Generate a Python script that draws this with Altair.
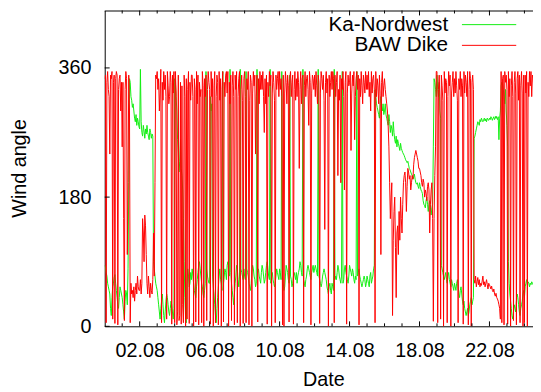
import altair as alt
import pandas as pd

FONT = "Liberation Sans"

# Series names and colours
series_names = ["Ka-Nordwest", "BAW Dike"]
series_colors = ["#11ee11", "#ff0000"]

# Axis ticks / labels (x in days since 31.07 00:00)
x_label_days = [2, 6, 10, 14, 18, 22]
x_labels = ["02.08", "06.08", "10.08", "14.08", "18.08", "22.08"]
x_minor_days = [1, 3, 4, 5, 7, 8, 9, 11, 12, 13, 15, 16, 17, 19, 20, 21, 23, 24]
y_ticks = [0, 180, 360]

# Sampling: one value every hour, starting 31.07 00:00
STEP_DAY = 1 / 24

# Ka-Nordwest wind angle, one list per day (31.07 ... 24.08)
g00 = [85, 82, 75, 70, 60, 55, 50, 45, 25, 15, 40, 55, 60, 68, 72, 60, 50, 40, 30, 25, 40, 55, 50, 45]
g01 = [40, 30, 20, 10, 35, 50, 45, 30, 80, 200, 345, 340, 320, 315, 305, 310, 300, 290, 285, 295, 280, 290, 285, 278]
g02 = [275, 358, 285, 270, 265, 280, 272, 262, 275, 268, 280, 270, 265, 260, 275, 270, 262, 268, 265, 90, 80, 70, 60, 55]
g03 = [50, 40, 30, 20, 10, 25, 35, 45, 30, 15, 5, 20, 35, 45, 40, 30, 20, 15, 25, 35, 30, 20, 10, 25]
g04 = [345, 340, 320, 300, 260, 240, 215, 230, 260, 220, 210, 190, 150, 90, 40, 10, 5, 60, 80, 70, 55, 60, 75, 65]
g05 = [80, 70, 60, 50, 45, 40, 55, 65, 75, 85, 90, 80, 70, 60, 55, 45, 40, 50, 60, 355, 80, 70, 65, 60]
g06 = [60, 320, 300, 310, 70, 55, 45, 30, 15, 5, 25, 40, 55, 70, 80, 65, 60, 50, 355, 60, 70, 80, 75, 65]
g07 = [85, 90, 80, 70, 358, 75, 60, 50, 40, 30, 45, 60, 70, 85, 80, 65, 55, 70, 358, 80, 75, 70, 65, 80]
g08 = [70, 65, 355, 80, 75, 70, 60, 55, 50, 60, 75, 85, 80, 70, 65, 55, 60, 358, 75, 80, 70, 65, 60, 75]
g09 = [85, 80, 70, 60, 65, 75, 85, 90, 80, 70, 65, 358, 60, 70, 75, 65, 60, 55, 60, 70, 80, 75, 70, 65]
g10 = [80, 75, 65, 355, 70, 60, 50, 55, 70, 85, 80, 75, 65, 60, 350, 70, 65, 55, 60, 70, 75, 70, 65, 75]
g11 = [60, 70, 75, 80, 90, 85, 75, 70, 358, 65, 60, 55, 65, 70, 80, 85, 80, 75, 70, 65, 75, 80, 85, 75]
g12 = [80, 85, 80, 75, 70, 358, 70, 65, 60, 55, 60, 70, 75, 80, 75, 70, 65, 55, 50, 45, 55, 60, 50, 45]
g13 = [60, 55, 50, 358, 65, 70, 65, 75, 85, 80, 70, 65, 60, 70, 355, 60, 65, 80, 85, 75, 70, 65, 60, 70]
g14 = [85, 80, 75, 70, 80, 75, 65, 60, 70, 65, 355, 70, 75, 80, 70, 65, 60, 55, 60, 65, 70, 65, 55, 60]
g15 = [70, 65, 60, 55, 70, 75, 60, 65, 70, 80, 85, 330, 320, 310, 305, 300, 295, 290, 310, 320, 305, 300, 310, 295]
g16 = [300, 310, 295, 290, 285, 280, 295, 285, 270, 280, 275, 265, 285, 270, 260, 255, 265, 250, 260, 255, 250, 245, 255, 248]
g17 = [245, 242, 240, 238, 235, 232, 230, 228, 230, 225, 220, 218, 215, 212, 210, 205, 208, 212, 205, 200, 198, 200, 195, 192]
g18 = [200, 195, 190, 188, 185, 175, 170, 168, 165, 175, 180, 170, 160, 170, 175, 165, 155, 165, 170, 250, 345, 340, 330, 320]
g19 = [350, 330, 320, 340, 300, 290, 85, 80, 75, 70, 65, 70, 75, 65, 60, 70, 75, 65, 60, 55, 65, 60, 55, 50]
g20 = [60, 55, 50, 60, 65, 55, 45, 40, 50, 55, 45, 35, 30, 35, 25, 20, 15, 20, 25, 15, 20, 30, 35, 40]
g21 = [30, 35, 40, 262, 265, 270, 275, 280, 285, 283, 280, 288, 285, 290, 287, 285, 288, 290, 286, 289, 285, 290, 288, 287]
g22 = [290, 288, 292, 290, 287, 290, 292, 288, 290, 293, 290, 288, 292, 260, 290, 300, 335, 340, 338, 330, 320, 310, 330, 300]
g23 = [280, 250, 90, 60, 45, 35, 25, 15, 10, 20, 30, 25, 20, 35, 45, 40, 30, 20, 15, 25, 30, 35, 45, 50]
g24 = [40, 55, 60, 65, 58, 62, 60, 55, 60, 58, 62, 60, 58, 62, 60, 58, 60, 62, 60, 58, 60, 62, 60, 58]

# BAW Dike wind angle, one list per day
r00 = [345, 350, 5, 340, 355, 330, 320, 240, 350, 345, 355, 10, 340, 350, 4, 345, 355, 350, 2, 330, 345, 350, 300, 340]
r01 = [250, 340, 150, 8, 330, 355, 345, 100, 200, 350, 300, 5, 60, 45, 50, 40, 55, 35, 50, 60, 45, 70, 55, 50]
r02 = [50, 65, 45, 60, 150, 130, 90, 155, 140, 100, 60, 45, 70, 55, 40, 60, 50, 45, 65, 130, 70, 200, 350, 345]
r03 = [355, 330, 345, 300, 325, 358, 5, 340, 315, 355, 330, 350, 320, 10, 355, 335, 310, 320, 355, 340, 3, 350, 325, 355]
r04 = [5, 355, 325, 2, 20, 350, 8, 15, 340, 3, 335, 30, 5, 350, 320, 0, 345, 10, 330, 355, 4, 340, 315, 350]
r05 = [350, 320, 0, 345, 330, 6, 355, 310, 350, 2, 340, 320, 330, 5, 355, 335, 0, 345, 320, 350, 8, 330, 355, 340]
r06 = [330, 3, 355, 320, 345, 0, 335, 355, 5, 320, 350, 340, 2, 355, 315, 345, 0, 330, 355, 6, 340, 320, 350, 355]
r07 = [325, 355, 0, 340, 310, 350, 8, 335, 355, 320, 2, 350, 330, 355, 5, 320, 345, 355, 0, 330, 350, 315, 4, 345]
r08 = [355, 320, 5, 345, 330, 355, 2, 315, 350, 340, 0, 325, 355, 335, 350, 240, 320, 350, 6, 345, 310, 355, 330, 350]
r09 = [330, 355, 320, 270, 345, 310, 350, 3, 340, 320, 355, 335, 350, 0, 325, 355, 340, 315, 5, 350, 330, 345, 355, 320]
r10 = [355, 330, 345, 320, 2, 350, 0, 325, 355, 340, 310, 350, 335, 6, 345, 355, 320, 340, 350, 3, 330, 355, 315, 345]
r11 = [320, 355, 340, 220, 330, 355, 310, 345, 350, 5, 335, 355, 320, 345, 350, 330, 280, 355, 340, 2, 325, 350, 345, 330]
r12 = [350, 320, 355, 335, 310, 350, 340, 4, 325, 355, 345, 330, 350, 315, 135, 340, 355, 325, 345, 0, 350, 320, 340, 355]
r13 = [330, 355, 345, 5, 350, 320, 340, 355, 210, 330, 315, 350, 200, 345, 330, 355, 320, 190, 340, 355, 3, 325, 350, 335]
r14 = [340, 355, 245, 325, 350, 335, 355, 260, 320, 345, 355, 330, 350, 2, 345, 320, 355, 335, 310, 350, 340, 325, 355, 330]
r15 = [350, 330, 355, 320, 340, 300, 355, 325, 345, 350, 330, 5, 355, 320, 345, 335, 310, 350, 325, 100, 340, 355, 320, 335]
r16 = [345, 330, 320, 310, 300, 280, 250, 200, 150, 180, 200, 15, 120, 160, 180, 110, 40, 130, 140, 100, 160, 120, 180, 150]
r17 = [130, 170, 200, 210, 215, 200, 160, 195, 220, 215, 205, 210, 190, 200, 210, 205, 225, 235, 240, 245, 240, 235, 230, 220]
r18 = [220, 215, 210, 200, 195, 205, 200, 180, 190, 185, 175, 195, 200, 190, 130, 170, 190, 200, 150, 7, 150, 210, 250, 355]
r19 = [355, 5, 330, 350, 320, 10, 350, 335, 315, 0, 355, 325, 345, 340, 5, 320, 355, 335, 350, 0, 325, 340, 355, 320]
r20 = [345, 325, 355, 335, 315, 5, 345, 330, 355, 320, 345, 335, 3, 355, 325, 350, 340, 320, 355, 2, 330, 355, 345, 0]
r21 = [340, 350, 330, 65, 60, 70, 55, 62, 68, 58, 65, 55, 60, 57, 63, 70, 58, 62, 55, 60, 65, 58, 52, 60]
r22 = [58, 55, 52, 56, 50, 48, 52, 45, 42, 46, 40, 38, 35, 30, 25, 10, 355, 5, 345, 350, 2, 355, 340, 350]
r23 = [330, 3, 355, 320, 345, 0, 335, 355, 320, 8, 340, 355, 325, 2, 345, 355, 315, 350, 5, 335, 355, 325, 0, 350]
r24 = [5, 350, 325, 355, 0, 340, 320, 355, 335, 355, 320, 350, 345, 330, 350, 345, 355, 325, 345, 350, 340, 355, 330, 345]

green_all = (g00 + g01 + g02 + g03 + g04 + g05 + g06 + g07 + g08 + g09 + g10 + g11 + g12
             + g13 + g14 + g15 + g16 + g17 + g18 + g19 + g20 + g21 + g22 + g23 + g24)
red_all = (r00 + r01 + r02 + r03 + r04 + r05 + r06 + r07 + r08 + r09 + r10 + r11 + r12
           + r13 + r14 + r15 + r16 + r17 + r18 + r19 + r20 + r21 + r22 + r23 + r24)

df_g = pd.DataFrame({"day": [i * STEP_DAY for i in range(len(green_all))], "angle": green_all})
df_r = pd.DataFrame({"day": [i * STEP_DAY for i in range(len(red_all))], "angle": red_all})

W = 434
H = 320
X_DOMAIN = [0, 24.49]
Y_DOMAIN = [0, 440]

xscale = alt.Scale(domain=X_DOMAIN, nice=False, zero=False)
yscale = alt.Scale(domain=Y_DOMAIN, nice=False)

label_expr = " : ".join(f"datum.value == {d} ? '{t}'" for d, t in zip(x_label_days, x_labels)) + " : ''"

xaxis = alt.Axis(values=x_label_days, labelExpr=label_expr, ticks=False, grid=False,
                 domain=True, domainColor="black", domainWidth=1, labelFont=FONT, labelFontSize=20,
                 labelColor="black", labelPadding=15, labelFlush=False, labelOverlap=False,
                 title="Date", titleFont=FONT, titleFontSize=20, titleFontWeight="normal",
                 titleColor="black", titleX=221.5, titleY=44, titleBaseline="top", titleAlign="center")
yaxis = alt.Axis(values=y_ticks, ticks=False, grid=False, domain=True, domainColor="black", domainWidth=1,
                 labelFont=FONT, labelFontSize=20, labelColor="black", labelPadding=14,
                 title="Wind angle", titleFont=FONT, titleFontSize=20, titleFontWeight="normal",
                 titleColor="black", titleAngle=270, titleX=-80, titleY=159.5,
                 titleBaseline="alphabetic", titleAlign="center")

green = alt.Chart(df_g).mark_line(color=series_colors[0], strokeWidth=1, clip=True).encode(
    x=alt.X("day:Q", scale=xscale, axis=xaxis),
    y=alt.Y("angle:Q", scale=yscale, axis=yaxis),
)
red = alt.Chart(df_r).mark_line(color=series_colors[1], strokeWidth=1, clip=True).encode(
    x=alt.X("day:Q", scale=xscale, axis=xaxis),
    y=alt.Y("angle:Q", scale=yscale, axis=yaxis),
)

df_major = pd.DataFrame({"day": x_label_days})
df_minor = pd.DataFrame({"day": x_minor_days})
df_yt = pd.DataFrame({"angle": y_ticks})

def xticks(df, y0, y1):
    return alt.Chart(df).mark_rule(color="black", strokeWidth=1).encode(
        x=alt.X("day:Q", scale=xscale, axis=xaxis), y=alt.value(y0), y2=alt.value(y1))

tick_layers = [
    xticks(df_major, H, H - 5), xticks(df_minor, H, H - 3),
    xticks(df_major, 0, 5), xticks(df_minor, 0, 3),
    alt.Chart(df_yt).mark_rule(color="black", strokeWidth=1).encode(
        y=alt.Y("angle:Q", scale=yscale, axis=yaxis), x=alt.value(0), x2=alt.value(5)),
]

top_border = alt.Chart(pd.DataFrame({"a": [0]})).mark_rule(color="black", strokeWidth=1).encode(
    x=alt.value(0), x2=alt.value(W), y=alt.value(0.5))

legend_layers = []
legend_y = [14.3, 35.3]
for name, col, ly in zip(series_names, series_colors, legend_y):
    legend_layers.append(
        alt.Chart(pd.DataFrame({"t": [name]})).mark_text(
            align="right", baseline="middle", font=FONT, fontSize=21, color="black").encode(
            x=alt.value(348), y=alt.value(ly), text="t:N"))
    legend_layers.append(
        alt.Chart(pd.DataFrame({"t": [name]})).mark_rule(color=col, strokeWidth=1).encode(
            x=alt.value(362), x2=alt.value(417), y=alt.value(ly)))

chart = alt.layer(green, red, *tick_layers, top_border, *legend_layers).properties(
    width=W, height=H,
    padding={"left": 98, "top": 0, "right": 0, "bottom": 62},
    autosize=alt.AutoSizeParams(type="none"),
    background="white",
).configure_view(strokeWidth=0)

chart.save("out.html", embed_options={"renderer": "svg", "actions": False})
